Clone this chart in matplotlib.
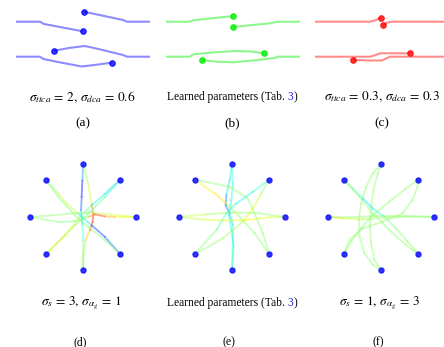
"""
Two-agent lane swap (top row) and eight-agent circle swap (bottom row)
for three parameter settings each.
"""
import numpy as np
import matplotlib
matplotlib.use("Agg")
import matplotlib.pyplot as plt
from matplotlib.collections import LineCollection

plt.rcParams.update({
    "font.family": ["Liberation Serif", "DejaVu Serif"],
    "mathtext.fontset": "stix",
})

# ── Lane swap trajectories (x along the road, y across; same units both ways) ──
a_x = [[0, 24, 28, 66.7],
       [134, 111, 107, 68],
       [0, 24, 27.3, 44, 65.7, 79, 95.7],
       [134, 111, 107, 84, 69, 54, 38.3]]
a_y = [[17.5, 17.5, 15.2, 7.9],
       [17.5, 17.5, 19.2, 27.5],
       [-17.5, -17.5, -19.8, -23.2, -27.3, -25.7, -23.5],
       [-17.5, -17.5, -15.8, -10.2, -6.8, -8.6, -11.5]]

b_x = [[0, 24, 26.7, 67.3],
       [134, 111.7, 104, 66.7],
       [0, 24, 27.3, 50, 70.7, 85, 98],
       [134, 111.7, 109, 90, 67.3, 50, 35.7]]
b_y = [[17.5, 17.5, 18.9, 23.2],
       [17.5, 17.5, 15.9, 12.2],
       [-17.5, -17.5, -15.1, -13.0, -11.8, -12.3, -14.1],
       [-17.5, -17.5, -18.7, -21.0, -23.1, -22.5, -20.8]]

c_x = [[0, 55, 60, 66],
       [140, 76.7, 71.7, 68],
       [0, 55, 60, 65, 95],
       [140, 75, 71, 66.7, 55, 38.3]]
c_y = [[17.5, 17.5, 18.9, 21.5],
       [17.5, 17.5, 16.5, 14.2],
       [-17.5, -17.5, -16.0, -14.1, -14.1],
       [-17.5, -17.5, -19.3, -21.3, -21.3, -20.8]]

lane_titles = [r"$\sigma_{ttca}\,=\,2,\,\sigma_{dca}\,=\,0.6$",
               None,
               r"$\sigma_{ttca}\,=\,0.3,\,\sigma_{dca}\,=\,0.3$"]
lane_letters = ["(a)", "(b)", "(c)"]
lane_colors = ["#0000ff", "#00ee00", "#ff0000"]

# ── Circle swap trajectories (metres) with speed value per point (0..1) ──────
d_x = [[0, -0.1, -0.2, -0.3, -0.1, 0.05, 0, 0],
       [0, 0.1, 0.4, 1.05, 1.45, 1.55, 1.3, 0.8, 0],
       [-8, -4.7, -1.2, 1.3, 4.3, 8],
       [8, 4.8, 3.3, 1.8, 0.8, -1.2, -3.7, -8],
       [-5.66, -3.7, -2.45, -0.7, 1.3, 3.3, 5.66],
       [5.66, 3.3, 0.8, -1.2, -3.7, -5.66],
       [5.66, 3.3, 1.3, -0.7, -2.7, -5.66],
       [-5.66, -3.2, -1.2, 0.8, 3.3, 5.66]]
d_y = [[8, 5.5, 3.0, 1.0, -1.0, -3.5, -6.0, -8],
       [-8, -5.5, -3.5, -2.0, -0.75, 0.5, 2.0, 5.0, 8],
       [0, 0.25, 0.6, 0.65, 0.35, 0],
       [0, 0, 0.1, 0.4, 0, -0.65, -0.75, 0],
       [5.66, 3.5, 2.0, 0.5, -1.25, -3.0, -5.66],
       [-5.66, -3.5, -1.5, 0.25, 3.0, 5.66],
       [5.66, 3.5, 1.75, -0.25, -2.75, -5.66],
       [-5.66, -3.25, -1.25, 0.5, 3.0, 5.66]]
d_v = [[0.4, 0.15, 0.12, 0.3, 0.38, 0.45, 0.52, 0.52],
       [0.52, 0.52, 0.62, 0.78, 0.9, 0.88, 0.65, 0.55, 0.52],
       [0.55, 0.52, 0.52, 0.55, 0.62, 0.62],
       [0.6, 0.65, 0.8, 0.92, 0.6, 0.5, 0.48, 0.55],
       [0.52, 0.52, 0.68, 0.52, 0.2, 0.15, 0.3],
       [0.52, 0.52, 0.5, 0.5, 0.52, 0.52],
       [0.35, 0.33, 0.4, 0.52, 0.7, 0.62],
       [0.52, 0.6, 0.52, 0.5, 0.45, 0.4]]

e_x = [[0, -0.35, -0.85, -0.95, -0.35, 0.15, 0.15, 0],
       [0, 0.25, -0.1, -0.45, -0.1, 0.15, 0],
       [-8, -3.85, 0.15, 4.15, 8],
       [8, 5.65, 2.15, -1.35, -4.85, -8],
       [-5.66, -2.6, -0.85, 1.15, 3.4, 5.66],
       [5.66, 4.65, 3.4, 2.4, -0.35, -5.66],
       [5.66, 3.15, 0.65, -0.85, -2.35, -5.66],
       [-5.66, -1.35, 1.65, 3.15, 4.4, 5.66]]
e_y = [[8, 5.55, 3.3, 1.8, 0.55, -1.2, -3.45, -8],
       [-8, -4.45, -1.95, 0.3, 2.55, 5.05, 8],
       [0, 0.4, 0.7, 0.55, 0],
       [0, -0.05, -0.45, -0.55, -0.35, 0],
       [5.66, 3.55, 2.05, 0.05, -2.45, -5.66],
       [-5.66, -2.45, 0.55, 2.8, 4.55, 5.66],
       [5.66, 3.8, 2.05, 0.55, -1.95, -5.66],
       [-5.66, -3.2, -0.7, 1.3, 3.55, 5.66]]
e_v = [[0.38, 0.36, 0.35, 0.15, 0.3, 0.38, 0.4, 0.4],
       [0.42, 0.4, 0.38, 0.36, 0.38, 0.4, 0.4],
       [0.6, 0.56, 0.52, 0.52, 0.54],
       [0.56, 0.62, 0.66, 0.62, 0.6, 0.56],
       [0.55, 0.75, 0.6, 0.52, 0.52, 0.52],
       [0.52, 0.52, 0.52, 0.52, 0.52, 0.52],
       [0.42, 0.37, 0.37, 0.42, 0.48, 0.52],
       [0.52, 0.52, 0.58, 0.65, 0.54, 0.52]]

f_x = [[0, -1.25, -2.25, -3.0, -3.35, -3.25, -2.5, -1.25, 0],
       [0, -1.0, -1.5, -1.65, -1.5, -1.15, -0.5, 0],
       [-5.66, -4.25, -2.75, -1.25, 0.5, 2.25, 4.0, 5.66],
       [5.66, 3.75, 1.25, -1.25, -3.25, -5.66],
       [5.66, 3.75, 1.25, -1.25, -3.0, -4.5, -5.66],
       [-5.66, -4.75, -2.75, 0.25, 3.25, 4.75, 5.5, 5.66],
       [-8, -5.75, -2.75, 1.25, 5.25, 8],
       [8, 3.75, -0.75, -4.75, -8]]
f_y = [[8, 6.55, 4.55, 2.05, -0.45, -2.95, -5.45, -7.2, -8],
       [-8, -6.45, -3.95, -1.45, 1.55, 4.05, 6.55, 8],
       [5.66, 4.3, 2.8, 1.3, 0.05, -1.7, -3.7, -5.66],
       [-5.66, -4.2, -1.95, 0.55, 3.05, 5.66],
       [5.66, 4.3, 2.3, 0.3, -1.7, -3.7, -5.66],
       [-5.66, -3.45, -1.7, -0.7, 0.55, 2.55, 4.55, 5.66],
       [0, -0.2, -0.35, -0.05, 0.05, 0],
       [0, 0.15, 0.15, -0.05, 0]]
f_v = [[0.52, 0.52, 0.52, 0.52, 0.52, 0.52, 0.52, 0.52, 0.52],
       [0.52, 0.52, 0.52, 0.52, 0.52, 0.52, 0.52, 0.52],
       [0.52, 0.46, 0.36, 0.33, 0.45, 0.52, 0.52, 0.52],
       [0.52, 0.52, 0.52, 0.52, 0.52, 0.52],
       [0.52, 0.52, 0.52, 0.52, 0.52, 0.52, 0.52],
       [0.52, 0.52, 0.52, 0.52, 0.52, 0.52, 0.52, 0.52],
       [0.7, 0.66, 0.56, 0.52, 0.52, 0.52],
       [0.52, 0.52, 0.52, 0.52, 0.55]]

ring_x = [0, 5.66, 8, 5.66, 0, -5.66, -8, -5.66]
ring_y = [8, 5.66, 0, -5.66, -8, -5.66, 0, 5.66]

circle_titles = [r"$\sigma_s\,=\,3,\,\sigma_{\alpha_g}\,=\,1$",
                 None,
                 r"$\sigma_s\,=\,1,\,\sigma_{\alpha_g}\,=\,3$"]
circle_letters = ["(d)", "(e)", "(f)"]

# ── Figure (layout in pixels of the 444 x 347 canvas) ────────────────────────
W, H = 444, 347
fig = plt.figure(figsize=(W / 100, H / 100), dpi=100)


def px_axes(left, top, width, height):
    ax = fig.add_axes([left / W, 1 - (top + height) / H, width / W, height / H])
    ax.set_axis_off()
    return ax


def label(x, y, s, size=8.3, **kw):
    return fig.text(x / W, 1 - y / H, s, fontsize=size, ha="center", va="center", **kw)


def learned_label(x_left, y):
    t1 = fig.text(x_left / W, 1 - y / H, "Learned parameters (Tab. ", fontsize=8.3,
                  ha="left", va="baseline")
    a2 = plt.annotate("3", xycoords=t1, xy=(1, 0), va="bottom", fontsize=8.3,
                      color="#2020e0", annotation_clip=False)
    plt.annotate(")", xycoords=a2, xy=(1, 0), va="bottom", fontsize=8.3,
                 annotation_clip=False)


# Top row: lane swaps
lane_left = [0, 150, 299]
for i, (xs, ys) in enumerate([(a_x, a_y), (b_x, b_y), (c_x, c_y)]):
    ax = px_axes(lane_left[i], 0, 150, 75)
    ax.set_xlim(-16, 134)
    ax.set_ylim(-35.8, 39.2)
    col = lane_colors[i]
    for x, y in zip(xs, ys):
        ax.plot(x, y, color=col, lw=1.5, alpha=0.45, solid_capstyle="butt")
        ax.plot(x[-1], y[-1], "o", ms=4.0, color=col, alpha=0.8, mec=col, mew=0.8)

cx_lane = [82.5, 232, 382]
for i in range(3):
    if lane_titles[i] is None:
        learned_label(166.7, 100)
    else:
        label(cx_lane[i], 97, lane_titles[i], size=9.6)
    label(cx_lane[i], 123, lane_letters[i], size=9.5)

# Bottom row: circle swaps
circle_cx = [83, 232, 381]
R_PX = 119.25
for i, (xs, ys, vs) in enumerate([(d_x, d_y, d_v), (e_x, e_y, e_v), (f_x, f_y, f_v)]):
    ax = px_axes(circle_cx[i] - R_PX / 2, 217 - R_PX / 2, R_PX, R_PX)
    ax.set_xlim(-9, 9)
    ax.set_ylim(-9, 9)
    for x, y, v in zip(xs, ys, vs):
        pts = np.column_stack([x, y])
        segs = np.stack([pts[:-1], pts[1:]], axis=1)
        v = np.asarray(v)
        seg_v = (v[:-1] + v[1:]) / 2
        lc = LineCollection(segs, colors=plt.cm.jet(seg_v), linewidths=1.4, alpha=0.42,
                            capstyle="round")
        ax.add_collection(lc)
    ax.plot(ring_x, ring_y, "o", ms=3.6, color="#1a1aff", mec="#1a1aff", alpha=0.9,
            linestyle="none", zorder=5)

for i in range(3):
    if circle_titles[i] is None:
        learned_label(166.7, 306)
    else:
        label(circle_cx[i] - 2, 303, circle_titles[i], size=9.6)
    label(circle_cx[i] - 3, 342, circle_letters[i], size=8.5)

fig.savefig("out.png", dpi=100)
